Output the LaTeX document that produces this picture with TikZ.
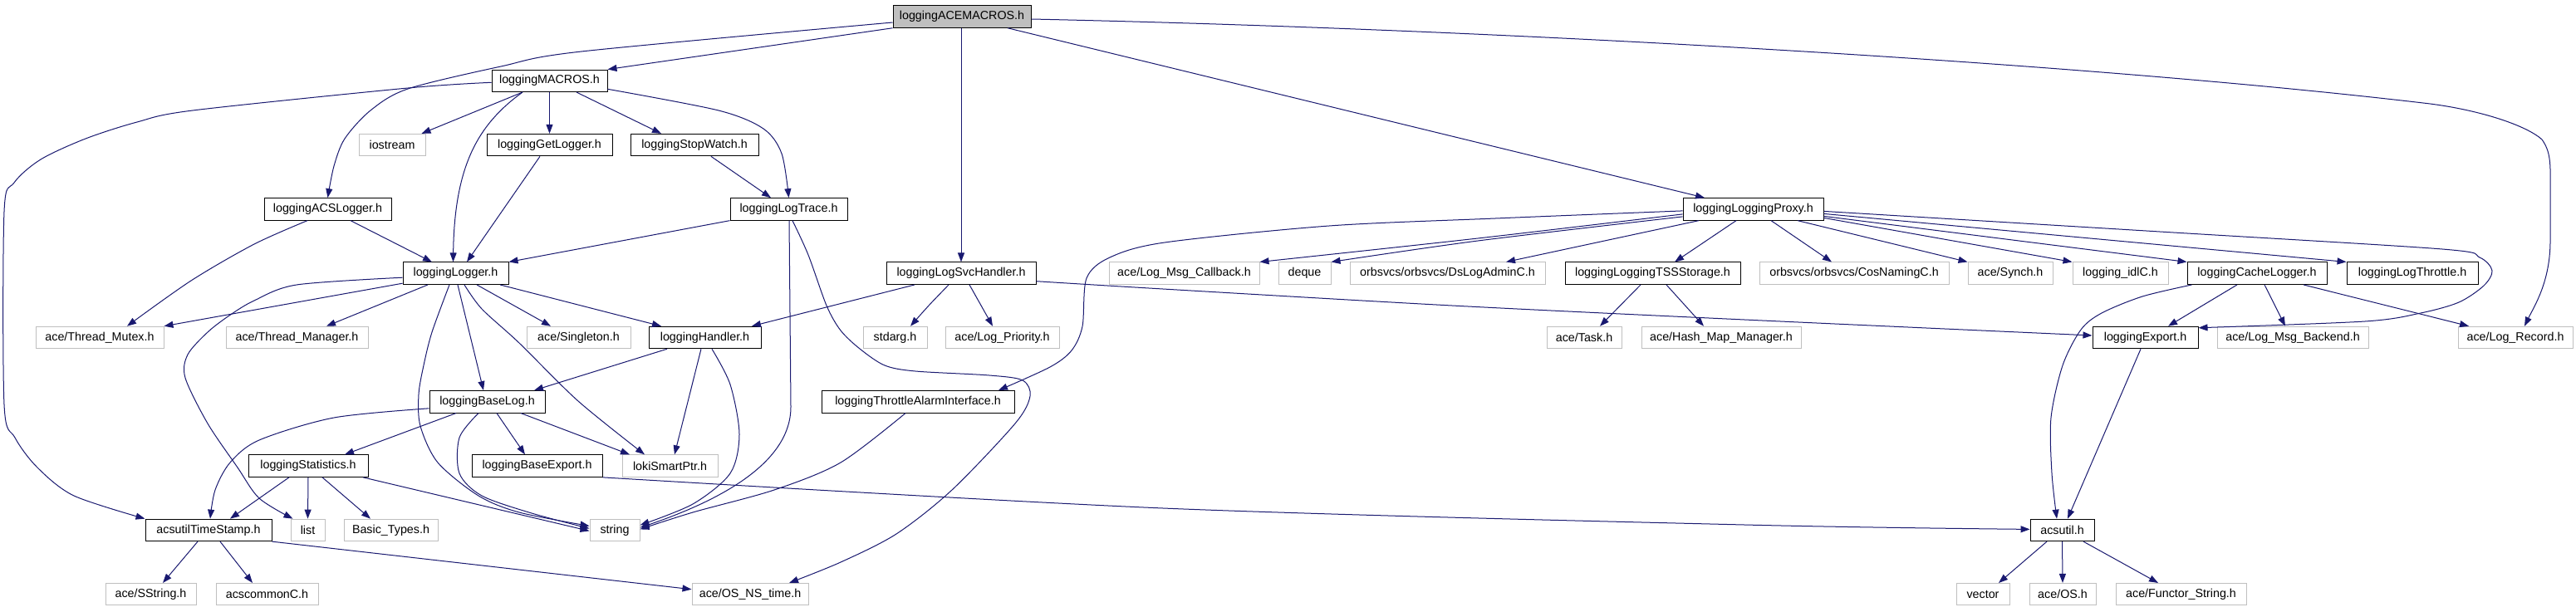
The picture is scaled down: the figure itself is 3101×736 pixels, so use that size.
\documentclass[tikz,border=0pt]{standalone}
\usepackage{fontspec}
\setmainfont{Liberation Sans}
\usetikzlibrary{arrows.meta}
\definecolor{edgec}{HTML}{191970}
\definecolor{grayb}{HTML}{BFBFBF}
\newcommand\dgfont{\fontsize{14.3pt}{16pt}\selectfont}
\tikzset{
  doc/.style={draw=black, line width=1pt, inner sep=0pt, minimum height=26.5pt, font=\dgfont, text=black},
  ext/.style={draw=grayb, line width=1pt, inner sep=0pt, minimum height=26.5pt, font=\dgfont, text=black},
  cur/.style={doc, fill=grayb},
  dep/.style={draw=edgec, line width=1pt, -{Triangle[length=11pt,width=8pt]}, fill=none},
}
\begin{document}
\begin{tikzpicture}[x=1pt,y=-1pt]
\fill[white] (0,0) rectangle (3101,736);
\useasboundingbox (0,0) rectangle (3101,736);
% row 0
\node[cur, minimum width=166pt] (ACEMACROS) at (1158,20) {loggingACEMACROS.h};
% row 1
\node[doc, minimum width=139pt] (MACROS) at (661.5,97.3) {loggingMACROS.h};
% row 2
\node[ext, minimum width=80pt] (iostream) at (472,174.6) {iostream};
\node[doc, minimum width=151pt] (GetLogger) at (661.5,174.6) {loggingGetLogger.h};
\node[doc, minimum width=154pt] (StopWatch) at (836,174.6) {loggingStopWatch.h};
% row 3
\node[doc, minimum width=153pt] (ACSLogger) at (394.5,251.9) {loggingACSLogger.h};
\node[doc, minimum width=141pt] (LogTrace) at (949.5,251.9) {loggingLogTrace.h};
\node[doc, minimum width=169pt] (Proxy) at (2110.5,251.9) {loggingLoggingProxy.h};
% row 4
\node[doc, minimum width=127pt] (Logger) at (548.5,329.2) {loggingLogger.h};
\node[doc, minimum width=180pt] (LogSvcHandler) at (1157,329.2) {loggingLogSvcHandler.h};
\node[ext, minimum width=181pt] (LogMsgCallback) at (1425.5,329.2) {ace/Log\_Msg\_Callback.h};
\node[ext, minimum width=63pt] (deque) at (1570.5,329.2) {deque};
\node[ext, minimum width=235pt] (DsLogAdminC) at (1742.5,329.2) {orbsvcs/orbsvcs/DsLogAdminC.h};
\node[doc, minimum width=211pt] (TSSStorage) at (1989.5,329.2) {loggingLoggingTSSStorage.h};
\node[ext, minimum width=228pt] (CosNamingC) at (2232,329.2) {orbsvcs/orbsvcs/CosNamingC.h};
\node[ext, minimum width=102pt] (Synch) at (2420,329.2) {ace/Synch.h};
\node[ext, minimum width=115pt] (idlC) at (2552.5,329.2) {logging\_idlC.h};
\node[doc, minimum width=168pt] (CacheLogger) at (2717,329.2) {loggingCacheLogger.h};
\node[doc, minimum width=158pt] (LogThrottle) at (2904,329.2) {loggingLogThrottle.h};
% row 5
\node[ext, minimum width=154pt] (ThreadMutex) at (120,406.5) {ace/Thread\_Mutex.h};
\node[ext, minimum width=171pt] (ThreadManager) at (357.5,406.5) {ace/Thread\_Manager.h};
\node[ext, minimum width=125pt] (Singleton) at (696.5,406.5) {ace/Singleton.h};
\node[doc, minimum width=135pt] (Handler) at (848.5,406.5) {loggingHandler.h};
\node[ext, minimum width=77pt] (stdarg) at (1077.5,406.5) {stdarg.h};
\node[ext, minimum width=137pt] (LogPriority) at (1206.5,406.5) {ace/Log\_Priority.h};
\node[ext, minimum width=90pt] (Task) at (1907,406.5) {ace/Task.h};
\node[ext, minimum width=192pt] (HashMap) at (2072,406.5) {ace/Hash\_Map\_Manager.h};
\node[doc, minimum width=127pt] (Export) at (2582.5,406.5) {loggingExport.h};
\node[ext, minimum width=182pt] (LogMsgBackend) at (2760,406.5) {ace/Log\_Msg\_Backend.h};
\node[ext, minimum width=138pt] (LogRecord) at (3028,406.5) {ace/Log\_Record.h};
% row 6
\node[doc, minimum width=139pt] (BaseLog) at (586.5,483.8) {loggingBaseLog.h};
\node[doc, minimum width=232pt] (ThrottleAlarm) at (1105,483.8) {loggingThrottleAlarmInterface.h};
% row 7
\node[doc, minimum width=144pt] (Statistics) at (371,561.1) {loggingStatistics.h};
\node[doc, minimum width=157pt] (BaseExport) at (646.5,561.1) {loggingBaseExport.h};
\node[ext, minimum width=115pt] (loki) at (806.5,561.1) {lokiSmartPtr.h};
% row 8
\node[doc, minimum width=152pt] (TimeStamp) at (251,638.4) {acsutilTimeStamp.h};
\node[ext, minimum width=41pt] (list) at (370.5,638.4) {list};
\node[ext, minimum width=113pt] (BasicTypes) at (470.5,638.4) {Basic\_Types.h};
\node[ext, minimum width=60pt] (string) at (740,638.4) {string};
\node[doc, minimum width=77pt] (acsutil) at (2482.5,638.4) {acsutil.h};
% row 9
\node[ext, minimum width=109pt] (SString) at (181.5,715.7) {ace/SString.h};
\node[ext, minimum width=123pt] (acscommonC) at (321.5,715.7) {acscommonC.h};
\node[ext, minimum width=140pt] (OSNStime) at (903,715.7) {ace/OS\_NS\_time.h};
\node[ext, minimum width=64pt] (vector) at (2387,715.7) {vector};
\node[ext, minimum width=80pt] (OSh) at (2483,715.7) {ace/OS.h};
\node[ext, minimum width=157pt] (Functor) at (2625.5,715.7) {ace/Functor\_String.h};

% ---- edges from loggingACEMACROS.h
\draw[dep] (ACEMACROS.south west) -- (MACROS.north east);
\draw[dep] plot[smooth] coordinates {([yshift=-7pt]ACEMACROS.west) (700,62) (603,80) (491,107) (446,133) (415,167) (402,200) (ACSLogger.north)};
\draw[dep] ([xshift=-1pt]ACEMACROS.south) -- (LogSvcHandler.north);
\draw[dep] ([xshift=55pt]ACEMACROS.south) -- ([xshift=-58.5pt]Proxy.north);
\draw[dep] ([yshift=-3pt]ACEMACROS.east) .. controls (1800,35) and (2500,75) .. (2917,124) .. controls (2980,131) and (3040,150) .. (3060,168) .. controls (3072,185) and (3070,200) .. (3070,240) -- (3070,290) .. controls (3070,340) and (3050,370) .. ([xshift=11pt]LogRecord.north);
% ---- edges from loggingMACROS.h
\draw[dep] plot[smooth] coordinates {([yshift=-2pt]MACROS.west) (491,106) (232,133) (165,147) (103,167) (49,192) (17,220) (5,255) (5,487) (18,527) (45,563) (89,597) (TimeStamp.north west)};
\draw[dep] ([xshift=-32.5pt]MACROS.south) -- ([xshift=-5pt]iostream.north east);
\draw[dep] ([xshift=-32.5pt]MACROS.south) .. controls (575,150) and (547,200) .. ([xshift=-3pt]Logger.north);
\draw[dep] (MACROS.south) -- (GetLogger.north);
\draw[dep] ([xshift=32.5pt]MACROS.south) -- ([xshift=-40pt]StopWatch.north);
\draw[dep] plot[smooth] coordinates {([yshift=-10pt]MACROS.east) (865,133) (919,155) (941,185) (LogTrace.north)};
% ---- second level
\draw[dep] ([xshift=-11.5pt]GetLogger.south) -- ([xshift=13.5pt]Logger.north);
\draw[dep] ([xshift=20pt]StopWatch.south) -- ([xshift=-21.5pt]LogTrace.north);
\draw[dep] ([xshift=27.5pt]ACSLogger.south) -- ([xshift=-28.5pt]Logger.north);
\draw[dep] plot[smooth] coordinates {([xshift=-24.5pt]ACSLogger.south) (306,294) (230,338) ([xshift=33pt]ThreadMutex.north)};
\draw[dep] (LogTrace.south west) -- (Logger.north east);
\draw[dep] ([xshift=0.5pt]LogTrace.south) -- (952,490) .. controls (952,560) and (860,605) .. ([yshift=3pt]string.east);
\draw[dep] plot[smooth] coordinates {([xshift=4.5pt]LogTrace.south) (973,307) (995,368) (1012,398) (1035,420) (1065,440) (1102,447) (1191,452) (1231,458) (1240,477) (1222,510) (1146,590) (1079,643) (1012,677) ([xshift=47pt]OSNStime.north)};
% ---- from loggingLogger.h
\draw[dep] ([yshift=-12pt]Logger.west) -- (ThreadMutex.north east);
\draw[dep] plot[smooth] coordinates {([yshift=-5pt]Logger.west) (357,343) (306,362) (276,380) (250,400) (226,427) (223,455) (250,510) (286,563) (312,600) ([xshift=3pt]list.north west)};
\draw[dep] ([xshift=-33.5pt]Logger.south) -- ([xshift=35.5pt]ThreadManager.north);
\draw[dep] plot[smooth] coordinates {([xshift=-7.5pt]Logger.south) (520,400) (510,440) (504,475) (506,513) (527,557) (576,597) (625,617) ([yshift=5pt]string.west)};
\draw[dep] ([xshift=2.5pt]Logger.south) -- ([xshift=-4.5pt]BaseLog.north);
\draw[dep] plot[smooth] coordinates {([xshift=10.5pt]Logger.south) (580,372) (625,413) (696,483) ([xshift=-30.5pt]loki.north)};
\draw[dep] ([xshift=25.5pt]Logger.south) -- ([xshift=-33.5pt]Singleton.north);
\draw[dep] ([xshift=53.5pt]Logger.south) -- ([xshift=-52.5pt]Handler.north);
% ---- from loggingLogSvcHandler.h
\draw[dep] ([xshift=-56pt]LogSvcHandler.south) -- ([xshift=56.5pt]Handler.north);
\draw[dep] plot[smooth] coordinates {([xshift=-15pt]LogSvcHandler.south) (1118,368) ([xshift=18.5pt]stdarg.north)};
\draw[dep] ([xshift=10pt]LogSvcHandler.south) -- ([xshift=-11.5pt]LogPriority.north);
\draw[dep] plot[smooth] coordinates {([yshift=-9.5pt]LogSvcHandler.east) (1400,348) (1748,368) (2100,385) ([yshift=2.5pt]Export.west)};
% ---- from loggingHandler.h
\draw[dep] ([xshift=-45.5pt]Handler.south) -- ([xshift=56.5pt]BaseLog.north);
\draw[dep] ([xshift=-4.5pt]Handler.south) -- ([xshift=5.5pt]loki.north);
\draw[dep] plot[smooth] coordinates {([xshift=8.5pt]Handler.south) (879,463) (890,523) (879,570) (834,607) ([yshift=6pt]string.east)};
% ---- from loggingBaseLog.h
\draw[dep] plot[smooth] coordinates {([yshift=-8pt]BaseLog.west) (402,503) (312,530) (277,557) (259,590) ([xshift=2pt]TimeStamp.north)};
\draw[dep] ([xshift=-37.5pt]BaseLog.south) -- ([xshift=44pt]Statistics.north);
\draw[dep] plot[smooth] coordinates {([xshift=-10.5pt]BaseLog.south) (553,527) (553,570) (580,597) (640,618) ([yshift=2pt]string.west)};
\draw[dep] ([xshift=11.5pt]BaseLog.south) -- ([xshift=-14.5pt]BaseExport.north);
\draw[dep] ([xshift=40.5pt]BaseLog.south) -- ([xshift=-48.5pt]loki.north);
% ---- from loggingStatistics.h
\draw[dep] ([xshift=-23pt]Statistics.south) -- ([xshift=26pt]TimeStamp.north);
\draw[dep] (Statistics.south) -- (list.north);
\draw[dep] ([xshift=17pt]Statistics.south) -- ([xshift=-24.5pt]BasicTypes.north);
\draw[dep] ([xshift=66pt]Statistics.south) -- ([yshift=-1pt]string.west);
% ---- others
\draw[dep] plot[smooth] coordinates {(BaseExport.south east) (1400,612) (2100,632) ([yshift=1pt]acsutil.west)};
\draw[dep] plot[smooth] coordinates {([xshift=-15pt]ThrottleAlarm.south) (1012,557) (932,590) (834,617) ([yshift=1pt]string.east)};
\draw[dep] ([xshift=-13pt]TimeStamp.south) -- ([xshift=14.5pt]SString.north);
\draw[dep] ([xshift=14pt]TimeStamp.south) -- ([xshift=-17.5pt]acscommonC.north);
\draw[dep] (TimeStamp.south east) -- ([yshift=6pt]OSNStime.west);
% ---- from loggingLoggingProxy.h
\draw[dep] plot[smooth] coordinates {([yshift=-2pt]Proxy.west) (1800,263) (1600,272) (1402,292) (1336,310) (1308,335) (1303,393) (1290,422) (1264,442) ([xshift=97pt]ThrottleAlarm.north)};
\draw[dep] plot[smooth] coordinates {([yshift=-6pt]Proxy.west) (1779,287) (LogMsgCallback.north east)};
\draw[dep] plot[smooth] coordinates {([yshift=-9pt]Proxy.west) (1779,290) (deque.north east)};
\draw[dep] ([xshift=-65.5pt]Proxy.south) -- ([xshift=70.5pt]DsLogAdminC.north);
\draw[dep] ([xshift=-20.5pt]Proxy.south) -- ([xshift=26.5pt]TSSStorage.north);
\draw[dep] ([xshift=21.5pt]Proxy.south) -- ([xshift=-27pt]CosNamingC.north);
\draw[dep] ([xshift=53.5pt]Proxy.south) -- (Synch.north west);
\draw[dep] ([yshift=-10.5pt]Proxy.east) -- (idlC.north west);
\draw[dep] ([yshift=-8.5pt]Proxy.east) -- (CacheLogger.north west);
\draw[dep] ([yshift=-5.5pt]Proxy.east) -- (LogThrottle.north west);
\draw[dep] plot[smooth] coordinates {([yshift=-2.5pt]Proxy.east) (2600,279) (2940,300) (2985,310) (3000,326) (2990,344) (2960,364) (2914,377) (2847,387) ([yshift=-2pt]Export.north east)};
% ---- TSS storage, cache logger, export, acsutil
\draw[dep] ([xshift=-14.5pt]TSSStorage.south) -- ([xshift=19pt]Task.north);
\draw[dep] ([xshift=16.5pt]TSSStorage.south) -- ([xshift=-21pt]HashMap.north);
\draw[dep] plot[smooth] coordinates {([xshift=6pt]CacheLogger.south west) (2579,357) (2530,377) (2505,397) (2483,440) (2469,503) (2470,570) ([xshift=-6.5pt]acsutil.north)};
\draw[dep] ([xshift=-24pt]CacheLogger.south) -- ([xshift=27.5pt]Export.north);
\draw[dep] ([xshift=9pt]CacheLogger.south) -- ([xshift=-9pt]LogMsgBackend.north);
\draw[dep] ([xshift=56pt]CacheLogger.south) -- ([xshift=-56pt]LogRecord.north);
\draw[dep] ([xshift=-5.5pt]Export.south) -- ([xshift=6.5pt]acsutil.north);
\draw[dep] ([xshift=-18.5pt]acsutil.south) -- ([xshift=19pt]vector.north);
\draw[dep] (acsutil.south) -- (OSh.north);
\draw[dep] ([xshift=25.5pt]acsutil.south) -- ([xshift=-27.5pt]Functor.north);
\end{tikzpicture}
\end{document}
